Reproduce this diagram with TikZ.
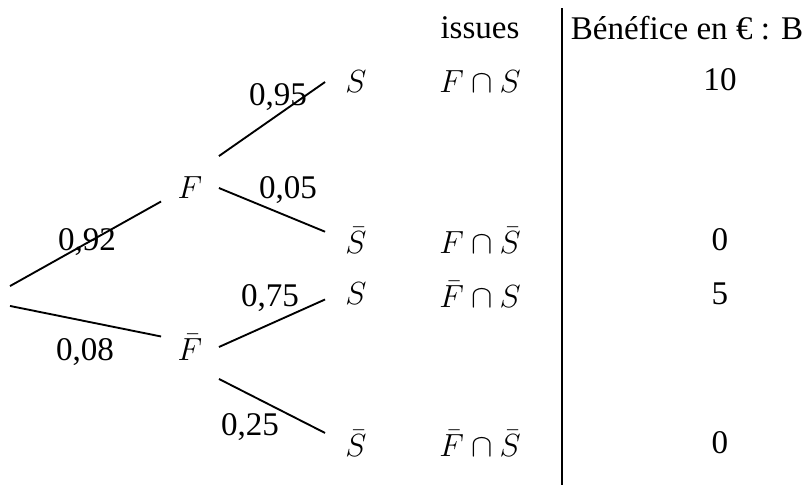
\documentclass[tikz,border=0pt]{standalone}
\usepackage{fontspec}
\setmainfont{Liberation Serif}
\usepackage{amsmath}
\usetikzlibrary{positioning}

\begin{document}
\begin{tikzpicture}[x=0.375pt, y=-0.375pt, line width=0.7pt,
  font=\fontsize{12.4}{15}\selectfont,
  evt/.style={inner sep=0pt, minimum width=21pt, minimum height=23.25pt},
  leaf/.style={inner sep=0pt, minimum width=22.5pt, minimum height=12pt},
  prob/.style={inner sep=1pt}]
  \useasboundingbox (0,0) rectangle (805,485);

  % arbre
  \node[inner sep=0pt, minimum width=0pt, minimum height=6.75pt] (root) at (10,296) {};
  \node[evt] (F) at (190,188) {$F$};
  \node[evt] (Fb) at (190,347) {$\bar{F}$};
  \node[leaf] (FS) at (356,82) {$S$};
  \node[leaf] (FSb) at (356,240) {$\bar{S}$};
  \node[leaf] (FbS) at (356,294) {$S$};
  \node[leaf] (FbSb) at (356,443) {$\bar{S}$};

  \draw (root.north) -- (F.205);
  \draw (root.south) -- (Fb.160);
  \draw (F.north east) -- (FS.west);
  \draw (F.east) -- (FSb.165);
  \draw (Fb.east) -- (FbS.190);
  \draw (Fb.south east) -- (FbSb.162);

  % probabilites
  \node[prob] (p92) at (87,242) {0,92};
  \node[prob] (p08) at (85,352) {0,08};
  \node[prob] (p95) at (278,97) {0,95};
  \node[prob] (p05) at (288,190) {0,05};
  \node[prob] (p75) at (270,298) {0,75};
  \node[prob] (p25) at (250,427) {0,25};

  % issues et benefices
  \node (issues) at (480,28) {issues};
  \node (iFS) at (480,82) {$F \cap S$};
  \node (iFSb) at (480,240) {$F \cap \bar{S}$};
  \node (iFbS) at (480,294) {$\bar{F} \cap S$};
  \node (iFbSb) at (480,443) {$\bar{F} \cap \bar{S}$};

  \node[anchor=east, inner sep=0pt] (benef) at (804,28) {Bénéfice en € : B};
  \node (bFS) at (720,80) {10};
  \node (bFSb) at (720,240) {0};
  \node (bFbS) at (720,294) {5};
  \node (bFbSb) at (720,443) {0};

  \coordinate (septop) at (562,8);
  \coordinate (sepbot) at (562,485);
  \draw (septop) -- (sepbot);
\end{tikzpicture}
\end{document}
